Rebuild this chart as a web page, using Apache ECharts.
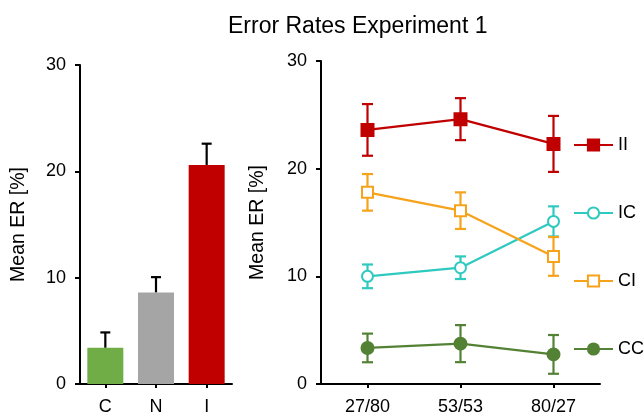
<!DOCTYPE html>
<html>
<head>
<meta charset="utf-8">
<script src="https://cdn.jsdelivr.net/npm/echarts@6/dist/echarts.min.js"></script>
<style>
    html, body { margin: 0; padding: 0; background: #fff; }
    #chart { width: 644px; height: 416px; }
</style>
</head>
<body>
<div id="chart"></div>
<script>
// left panel: mean error rate per condition
var barCats = ["C", "N", "I"];
var barVals = [3.4, 8.6, 20.6];
var barErrs = [1.45, 1.45, 2.0];
var barColors = ["#70AD47", "#A5A5A5", "#C00000"];

// right panel: sequence conditions
var seqCats = ["27/80", "53/53", "80/27"];
var iiVals = [23.6, 24.6, 22.3];
var iiErrs = [2.4, 1.95, 2.6];
var icVals = [10.0, 10.8, 15.1];
var icErrs = [1.1, 1.05, 1.4];
var ciVals = [17.8, 16.1, 11.85];
var ciErrs = [1.7, 1.7, 1.8];
var ccVals = [3.35, 3.75, 2.75];
var ccErrs = [1.33, 1.72, 1.8];

var yTicks = [0, 10, 20, 30];

var font = "Liberation Sans, Arial, sans-serif";

function errData(vals, errs, upOnly) {
    return vals.map(function (v, i) {
        return [i, upOnly ? v : v - errs[i], v + errs[i]];
    });
}

function errRender(upOnly) {
    return function (params, api) {
        var x = api.value(0);
        var top = api.coord([x, api.value(2)]);
        var bot = api.coord([x, api.value(1)]);
        var hw = upOnly ? 5 : 5.5;
        var style = { stroke: api.visual("color"), lineWidth: 2.2 };
        var kids = [
            { type: "line", shape: { x1: top[0], y1: top[1], x2: bot[0], y2: bot[1] }, style: style },
            { type: "line", shape: { x1: top[0] - hw, y1: top[1], x2: top[0] + hw, y2: top[1] }, style: style }
        ];
        if (!upOnly) {
            kids.push({ type: "line", shape: { x1: bot[0] - hw, y1: bot[1], x2: bot[0] + hw, y2: bot[1] }, style: style });
        }
        return { type: "group", children: kids };
    };
}

function yAxis(gridIndex, gap) {
    return {
        type: "value",
        gridIndex: gridIndex,
        min: 0,
        max: 30,
        interval: 10,
        name: "Mean ER [%]",
        nameLocation: "middle",
        nameGap: gap,
        nameTextStyle: { fontFamily: font, fontSize: 19.5, color: "#000" },
        axisLine: { show: true, lineStyle: { color: "#000", width: 2 } },
        axisTick: { show: true, length: 5, lineStyle: { color: "#000", width: 2 } },
        axisLabel: { fontFamily: font, fontSize: 18, color: "#000", margin: 14,
            formatter: function (v) { return yTicks.indexOf(v) >= 0 ? String(v) : ""; } },
        splitLine: { show: false }
    };
}

function xAxis(gridIndex, cats) {
    return {
        type: "category",
        gridIndex: gridIndex,
        data: cats,
        axisLine: { lineStyle: { color: "#000", width: 2 } },
        axisTick: { show: true, alignWithLabel: true, length: 4, lineStyle: { color: "#000", width: 2 } },
        axisLabel: { fontFamily: font, fontSize: 18, color: "#000", margin: 14 }
    };
}

function lineSeries(name, vals, color, symbol, size) {
    return {
        name: name,
        type: "line",
        xAxisIndex: 1,
        yAxisIndex: 1,
        data: vals,
        symbol: symbol,
        symbolSize: size,
        showAllSymbol: true,
        z: 5,
        lineStyle: { color: color, width: 2.2 },
        itemStyle: { color: color, borderColor: color, borderWidth: 2 },
        emphasis: { disabled: true }
    };
}

function errSeries(vals, errs, color) {
    return {
        type: "custom",
        xAxisIndex: 1,
        yAxisIndex: 1,
        data: errData(vals, errs, false),
        renderItem: errRender(false),
        itemStyle: { color: color },
        z: 3,
        silent: true
    };
}

var chart = echarts.init(document.getElementById("chart"));
chart.setOption({
    animation: false,
    backgroundColor: "#fff",
    title: {
        text: "Error Rates Experiment 1",
        left: 223,
        top: 10,
        textStyle: { fontFamily: font, fontSize: 23, fontWeight: "normal", color: "#000" }
    },
    grid: [
        { left: 80, right: 412, top: 65, bottom: 32 },
        { left: 321, right: 44, top: 61, bottom: 32 }
    ],
    xAxis: [xAxis(0, barCats), xAxis(1, seqCats)],
    yAxis: [yAxis(0, 51), yAxis(1, 53)],
    legend: {
        data: ["II", "IC", "CI", "CC"],
        orient: "vertical",
        left: 573,
        top: 136,
        padding: 0,
        itemWidth: 39,
        itemHeight: 14,
        itemGap: 50,
        textStyle: { fontFamily: font, fontSize: 18, color: "#000" },
        selectedMode: false
    },
    series: [
        {
            type: "bar",
            data: barVals.map(function (v, i) {
                return { value: v, itemStyle: { color: barColors[i] } };
            }),
            barWidth: 36,
            z: 2
        },
        {
            type: "custom",
            data: errData(barVals, barErrs, true),
            renderItem: errRender(true),
            itemStyle: { color: "#000" },
            z: 1,
            silent: true
        },
        errSeries(iiVals, iiErrs, "#C00000"),
        errSeries(icVals, icErrs, "#2EC9BF"),
        errSeries(ciVals, ciErrs, "#F7A21B"),
        errSeries(ccVals, ccErrs, "#548235"),
        lineSeries("II", iiVals, "#C00000", "rect", 12),
        lineSeries("IC", icVals, "#2EC9BF", "emptyCircle", 11),
        lineSeries("CI", ciVals, "#F7A21B", "emptyRect", 11),
        lineSeries("CC", ccVals, "#548235", "circle", 12)
    ]
});
</script>
</body>
</html>
